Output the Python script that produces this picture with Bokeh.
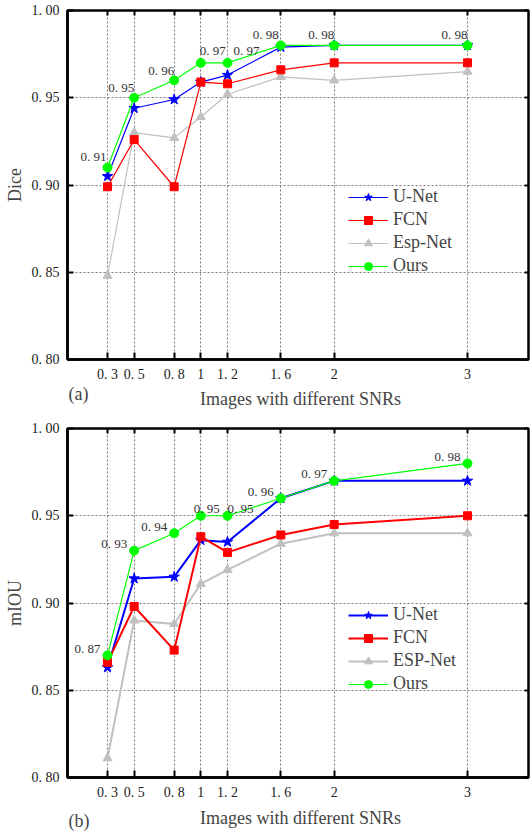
from bokeh.plotting import figure
from bokeh.models import (Range1d, FixedTicker, LinearAxis, Legend, LegendItem,
                          Label, ColumnDataSource)
from bokeh.layouts import column
from bokeh.embed import file_html
from bokeh.resources import INLINE
from bokeh.core.properties import value

# ---------------- data ----------------
snr = [0.3, 0.5, 0.8, 1, 1.2, 1.6, 2, 3]
x_tick_labels = ["0. 3", "0. 5", "0. 8", "1", "1. 2", "1. 6", "2", "3"]
y_ticks = [0.80, 0.85, 0.90, 0.95, 1.00]
y_tick_labels = ["0. 80", "0. 85", "0. 90", "0. 95", "1. 00"]

dice_unet = [0.905, 0.944, 0.949, 0.959, 0.963, 0.979, 0.980, 0.980]
dice_fcn = [0.899, 0.926, 0.899, 0.959, 0.958, 0.966, 0.970, 0.970]
dice_esp = [0.848, 0.930, 0.927, 0.939, 0.952, 0.962, 0.960, 0.965]
dice_ours = [0.910, 0.950, 0.960, 0.970, 0.970, 0.980, 0.980, 0.980]

miou_unet = [0.863, 0.914, 0.915, 0.936, 0.935, 0.960, 0.970, 0.970]
miou_fcn = [0.866, 0.898, 0.873, 0.938, 0.929, 0.939, 0.945, 0.950]
miou_esp = [0.811, 0.890, 0.888, 0.911, 0.919, 0.934, 0.940, 0.940]
miou_ours = [0.870, 0.930, 0.940, 0.950, 0.950, 0.960, 0.970, 0.980]

names_top = ["U-Net", "FCN", "Esp-Net", "Ours"]
names_bottom = ["U-Net", "FCN", "ESP-Net", "Ours"]
x_title = "Images with different SNRs"

# ---------------- style ----------------
FONT = "Liberation Serif"
COLORS = ["#0000ff", "#ff0000", "#c0c0c0", "#00ff00"]
MARKERS = ["star", "square", "triangle", "circle"]
SIZES = [11, 8, 9, 9]
DRAW_ORDER = [2, 0, 1, 3]


def fmt(v):
    return ("%.2f" % v).replace(".", ". ")


def make_panel(series, names, ylabel, height, top_border, bottom_border,
               widths, label_dx, label_dy, legend_loc):
    p = figure(width=530, height=height, output_backend="svg", toolbar_location=None,
               x_range=Range1d(0, 3.4575), y_range=Range1d(0.80, 1.00),
               min_border_left=67, min_border_right=2,
               min_border_top=top_border, min_border_bottom=bottom_border)
    p.background_fill_color = "white"
    p.border_fill_color = "white"
    p.outline_line_color = "black"
    p.outline_line_width = 2.5
    p.outline_line_alpha = 1

    # bottom axis (title drawn in the strip below)
    xa = p.xaxis[0]
    xa.ticker = FixedTicker(ticks=snr)
    xa.major_label_overrides = {k: s for k, s in zip(snr, x_tick_labels)}
    xa.major_tick_in = 7
    xa.major_tick_out = 0
    xa.major_tick_line_width = 2
    xa.minor_tick_line_color = None
    xa.axis_line_width = 2.5
    xa.major_label_standoff = 7
    xa.major_label_text_font = FONT
    xa.major_label_text_font_size = "14px"
    xa.major_label_text_color = "#222222"

    # left axis
    ya = p.yaxis[0]
    ya.ticker = FixedTicker(ticks=y_ticks)
    ya.major_label_overrides = {k: s for k, s in zip(y_ticks, y_tick_labels)}
    ya.major_tick_in = 6
    ya.major_tick_out = 0
    ya.major_tick_line_width = 2
    ya.minor_tick_line_color = None
    ya.axis_line_width = 2.5
    ya.major_label_standoff = 8
    ya.major_label_text_font = FONT
    ya.major_label_text_font_size = "14px"
    ya.major_label_text_color = "#222222"
    ya.axis_label = ylabel
    ya.axis_label_text_font = FONT
    ya.axis_label_text_font_size = "18px"
    ya.axis_label_text_font_style = "normal"
    ya.axis_label_standoff = 4

    # top / right tick-only axes (labels not drawn)
    top = LinearAxis(ticker=FixedTicker(ticks=snr), major_label_text_font_size="0px",
                     major_label_text_color=None,
                     major_label_standoff=0, major_tick_in=5, major_tick_out=0,
                     major_tick_line_width=2, minor_tick_line_color=None,
                     axis_line_color=None)
    p.add_layout(top, "above")
    right = LinearAxis(ticker=FixedTicker(ticks=y_ticks), major_label_text_font_size="0px",
                       major_label_text_color=None,
                       major_label_standoff=0, major_tick_in=4, major_tick_out=0,
                       major_tick_line_width=2, minor_tick_line_color=None,
                       axis_line_color=None)
    p.add_layout(right, "right")

    for g in (p.xgrid[0], p.ygrid[0]):
        g.grid_line_color = "#7a7a7a"
        g.grid_line_dash = "2 2"
        g.grid_line_width = 1
    p.xgrid[0].ticker = FixedTicker(ticks=snr)
    p.ygrid[0].ticker = FixedTicker(ticks=y_ticks)

    rends = {}
    for i in DRAW_ORDER:
        l = p.line(snr, series[i], line_color=COLORS[i], line_width=widths[i])
        m = p.scatter(snr, series[i], marker=MARKERS[i], size=SIZES[i],
                      fill_color=COLORS[i], line_color=COLORS[i])
        rends[i] = [l, m]

    src = ColumnDataSource(dict(x=snr, y=series[3], t=[fmt(v) for v in series[3]],
                                dx=label_dx, dy=label_dy))
    p.text(x="x", y="y", text="t", x_offset="dx", y_offset="dy", source=src,
           text_font=value(FONT), text_font_size="13px", text_color="#333333",
           text_align="right", text_baseline="middle")

    legend = Legend(items=[LegendItem(label=names[i], renderers=rends[i]) for i in range(4)],
                    location=legend_loc, label_text_font=FONT, label_text_font_size="18px",
                    glyph_width=40, glyph_height=20, label_height=20, spacing=2,
                    padding=0, margin=0, label_standoff=5,
                    background_fill_alpha=0, border_line_alpha=0)
    p.add_layout(legend)
    return p


def make_caption_row(tag, height, tag_y, title_y):
    """A thin strip holding the panel tag and the x-axis title (frame aligned with plots)."""
    c = figure(width=530, height=height, output_backend="svg", toolbar_location=None,
               x_axis_type=None, y_axis_type=None,
               min_border_left=67, min_border_right=2, min_border_top=0, min_border_bottom=0,
               x_range=Range1d(0, 1), y_range=Range1d(0, 1))
    c.outline_line_color = None
    c.background_fill_color = "white"
    c.border_fill_color = "white"
    c.xgrid.visible = False
    c.ygrid.visible = False
    c.add_layout(Label(x=1, y=tag_y, x_units="screen", y_units="screen", text=tag,
                       text_font=FONT, text_font_size="18px", text_baseline="middle",
                       text_align="left"))
    c.add_layout(Label(x=233, y=title_y, x_units="screen", y_units="screen", text=x_title,
                       text_font=FONT, text_font_size="18px", text_baseline="middle",
                       text_align="center"))
    return c


top_plot = make_panel([dice_unet, dice_fcn, dice_esp, dice_ours], names_top, "Dice",
                      height=384, top_border=10, bottom_border=25,
                      widths=[1.2, 1.2, 1.2, 1.2],
                      label_dx=[-1, 0, 0, 25, 32, -2, 0, 0],
                      label_dy=[-11, -10, -10, -12, -12, -11, -11, -11],
                      legend_loc=(281, 83))
cap_a = make_caption_row("(a)", 30, 21, 16)
bottom_plot = make_panel([miou_unet, miou_fcn, miou_esp, miou_ours], names_bottom, "mIOU",
                         height=388, top_border=14, bottom_border=25,
                         widths=[2, 2, 2, 1.2],
                         label_dx=[-7, -7, -7, 19, 26, -7, -7, -7],
                         label_dy=[-7, -7, -7, -7, -7, -7, -7, -7],
                         legend_loc=(281, 83))
cap_b = make_caption_row("(b)", 32, 14, 17)

layout = column(top_plot, cap_a, bottom_plot, cap_b)
open("out.html", "w").write(file_html(layout, INLINE))
